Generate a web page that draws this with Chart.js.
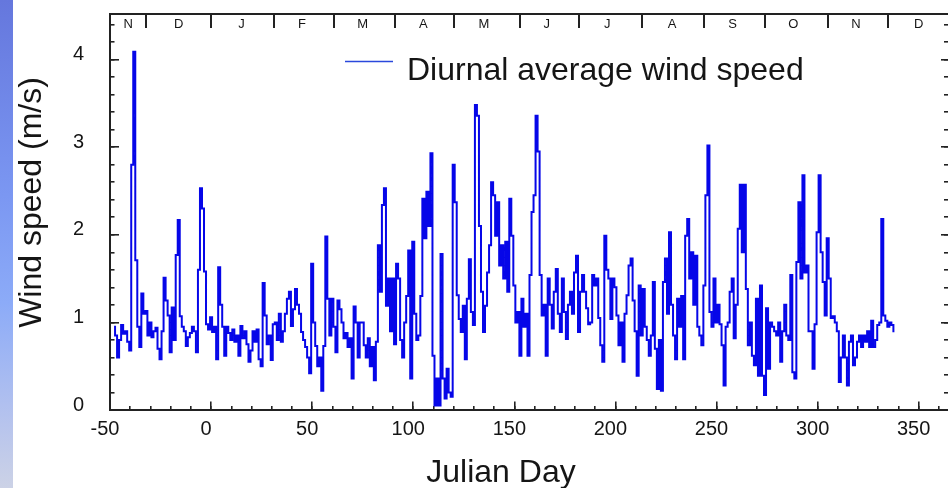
<!DOCTYPE html>
<html>
<head>
<meta charset="utf-8">
<script src="https://cdn.jsdelivr.net/npm/chart.js@4.4.0/dist/chart.umd.min.js"></script>
<style>
  html, body { margin: 0; padding: 0; background: #ffffff; width: 948px; height: 488px; overflow: hidden; }
  #edge {
    position: absolute; left: 0; top: 0; width: 13px; height: 488px;
    background: linear-gradient(to bottom, #6577dd 0%, #7b97f2 40%, #8cabf8 62%, #b4c2ee 85%, #ccd2e6 100%);
  }
  #wrap { position: absolute; left: 0; top: 0; width: 952px; height: 488px; }
  canvas { display: block; }
</style>
</head>
<body>
<div id="edge"></div>
<div id="wrap"><canvas id="chart" width="952" height="488" style="width:952px;height:488px"></canvas></div>
<script>
// Daily (diurnal) average wind speed, one value per Julian day starting at day -48
const firstDay = -48;
const windSpeed = [
  0.95, 0.85, 0.60, 0.80, 0.97, 0.87, 0.90, 0.78, 0.68,             // -48 .. -40
  2.80, 4.09, 1.71, 0.95, 0.72, 1.33, 1.10, 1.13, 0.85, 1.00,       // -39 .. -30
  0.83, 0.90, 0.94, 0.70, 0.58, 0.90, 1.51, 1.25, 1.08, 0.66,       // -29 .. -20
  1.17, 0.80, 1.77, 2.17, 1.07, 0.95, 0.90, 0.73, 0.83, 0.88,       // -19 .. -10
  0.95, 0.90, 0.66, 1.60, 2.53, 2.30, 1.58, 0.98, 0.92, 1.06,       //  -9 .. 0
  0.89, 0.95, 0.58, 1.63, 1.20, 0.95, 0.62, 0.95, 0.88, 0.80,       //   1 .. 10
  0.92, 0.78, 0.85, 0.62, 0.96, 0.82, 0.90, 0.75, 0.55, 0.68,       //  11 .. 20
  0.90, 0.78, 0.92, 0.58, 0.50, 1.45, 1.08, 0.75, 0.85, 0.57,       //  21 .. 30
  0.98, 1.00, 0.80, 1.10, 0.78, 0.90, 1.10, 1.27, 1.35, 0.96,       //  31 .. 40
  1.15, 1.38, 1.20, 1.10, 0.89, 0.80, 0.72, 0.60, 0.42, 1.67,       //  41 .. 50
  1.00, 0.73, 0.50, 0.60, 0.22, 0.73, 1.98, 1.27, 0.85, 1.27,       //  51 .. 60
  0.95, 0.66, 1.25, 1.15, 1.00, 0.82, 0.88, 0.72, 0.82, 0.36,       //  61 .. 70
  1.18, 1.00, 0.60, 1.00, 1.00, 0.74, 0.60, 0.82, 0.50, 0.72,       //  71 .. 80
  0.34, 0.78, 1.88, 1.35, 2.34, 2.53, 1.19, 1.50, 0.90, 1.50,       //  81 .. 90
  0.75, 1.67, 1.50, 0.80, 0.60, 1.00, 1.30, 1.82, 0.36, 1.92,       //  91 .. 100
  1.10, 0.80, 0.85, 1.30, 2.41, 1.96, 2.49, 2.10, 2.93, 0.62,       // 101 .. 110
  0.05, 0.36, 0.05, 1.78, 0.36, 0.13, 0.47, 0.20, 0.15, 2.80,       // 111 .. 120
  2.37, 1.31, 1.04, 0.89, 1.19, 0.58, 1.27, 1.72, 1.12, 0.97,       // 121 .. 130
  3.48, 3.36, 2.10, 1.35, 0.89, 1.19, 1.57, 1.88, 2.60, 2.45,       // 131 .. 140
  1.99, 2.37, 1.65, 1.88, 1.50, 1.92, 1.35, 2.41, 1.99, 1.42,       // 141 .. 150
  1.00, 1.12, 0.62, 1.27, 0.95, 1.10, 0.62, 1.54, 2.26, 2.45,       // 151 .. 160
  3.36, 2.95, 1.54, 1.08, 1.20, 0.62, 1.50, 1.20, 0.93, 1.35,       // 161 .. 170
  1.61, 1.10, 0.89, 1.50, 1.12, 0.81, 1.20, 1.35, 1.10, 1.57,       // 171 .. 180
  1.76, 0.89, 1.35, 1.54, 1.35, 1.16, 0.98, 1.00, 1.54, 1.42,       // 181 .. 190
  1.50, 1.05, 0.74, 0.55, 1.99, 1.60, 1.50, 1.04, 1.50, 1.40,       // 191 .. 200
  1.08, 0.74, 1.00, 0.55, 1.10, 1.31, 1.65, 1.73, 1.25, 0.90,       // 201 .. 210
  0.39, 1.42, 0.85, 1.38, 0.95, 0.80, 0.62, 0.85, 1.46, 0.70,       // 211 .. 220
  0.24, 0.80, 0.22, 1.46, 1.73, 1.10, 2.03, 1.20, 0.85, 0.58,       // 221 .. 230
  1.27, 0.95, 1.30, 0.58, 1.99, 2.18, 1.50, 1.80, 1.20, 1.76,       // 231 .. 240
  0.95, 0.85, 0.74, 1.42, 2.45, 3.02, 1.12, 0.95, 1.50, 1.00,       // 241 .. 250
  1.20, 0.98, 0.74, 0.28, 0.95, 1.00, 1.35, 1.50, 0.82, 1.20,       // 251 .. 260
  2.07, 2.57, 1.80, 2.57, 1.38, 0.74, 1.00, 0.62, 0.51, 1.27,       // 261 .. 270
  0.39, 1.42, 0.39, 0.17, 1.16, 0.47, 1.00, 0.95, 0.90, 0.85,       // 271 .. 280
  1.00, 0.55, 0.90, 1.20, 0.85, 0.80, 1.54, 0.43, 0.36, 1.69,       // 281 .. 290
  2.37, 1.50, 2.68, 1.57, 1.65, 0.90, 0.90, 0.47, 0.98, 2.03,       // 291 .. 300
  2.68, 1.80, 1.46, 1.08, 1.96, 1.50, 1.05, 1.07, 1.00, 0.90,       // 301 .. 310
  0.32, 0.60, 0.85, 0.60, 0.28, 0.78, 0.85, 0.51, 0.60, 0.78,       // 311 .. 320
  0.85, 0.72, 0.85, 0.78, 0.90, 0.72, 1.02, 0.72, 0.80, 0.97,       // 321 .. 330
  1.00, 2.18, 1.08, 1.02, 0.95, 1.00, 0.97, 0.90                    // 331 .. 338
];

// Month strip along the top edge
const monthNames  = ['N', 'D', 'J', 'F', 'M', 'A', 'M', 'J', 'J', 'A', 'S', 'O', 'N', 'D'];
const monthStarts = [-32, 0, 31, 61, 91, 120, 153, 182, 213, 244, 274, 305, 335];
const monthMids   = [-41, -16, 15, 45, 75, 105, 135, 166, 196, 228, 258, 288, 319, 350];

const seriesLabel = 'Diurnal average wind speed';
const xTitle = 'Julian Day';
const yTitle = 'Wind speed (m/s)';

const dayRange = { min: -50, max: 365 };
const speedRange = { min: 0, max: 4.52 };

const FONT = '"Liberation Sans", Arial, Helvetica, sans-serif';
const INK = '#151515';
const AXIS = '#222222';
const LINE = '#0606e8';

Chart.defaults.font.family = FONT;
Chart.defaults.color = INK;

const points = windSpeed.map((v, i) => ({ x: firstDay + i, y: v }));

// Pin each axis box to a fixed thickness and drop the label overhang padding
function fixSize(size) {
  return (scale) => {
    if (scale.isHorizontal()) scale.height = size; else scale.width = size;
    scale.paddingTop = 0;
    scale.paddingBottom = 0;
    scale.paddingLeft = 0;
    scale.paddingRight = 0;
  };
}

function tickGrid(len, width) {
  return { drawOnChartArea: false, drawTicks: true, tickLength: len, color: AXIS, lineWidth: width };
}

// Legend and axis titles drawn at fixed spots around the plot
const textLayer = {
  id: 'textLayer',
  afterDraw(chart) {
    const ctx = chart.ctx;
    const ds = chart.data.datasets[0];
    ctx.save();
    ctx.strokeStyle = '#2a48dc';
    ctx.lineWidth = 1.4;
    ctx.beginPath();
    ctx.moveTo(345, 61.5);
    ctx.lineTo(393, 61.5);
    ctx.stroke();

    ctx.fillStyle = INK;
    ctx.font = '32px ' + FONT;
    ctx.textAlign = 'left';
    ctx.textBaseline = 'alphabetic';
    ctx.fillText(ds.label, 407, 80);

    ctx.textAlign = 'center';
    ctx.fillText(xTitle, 501, 482);

    ctx.translate(41, 202.5);
    ctx.rotate(-Math.PI / 2);
    ctx.font = '32px ' + FONT;
    ctx.fillText(yTitle, 0, 0);
    ctx.restore();
  }
};

new Chart(document.getElementById('chart'), {
  type: 'line',
  data: {
    datasets: [{
      label: seriesLabel,
      data: points,
      borderColor: LINE,
      backgroundColor: LINE,
      borderWidth: 2,
      pointRadius: 0,
      stepped: 'middle',
      fill: false,
      xAxisID: 'x',
      yAxisID: 'y'
    }]
  },
  options: {
    responsive: false,
    animation: false,
    layout: { padding: { left: 0, right: 3, top: 0, bottom: 0 } },
    plugins: { legend: { display: false }, tooltip: { enabled: false } },
    scales: {
      x: {
        type: 'linear', position: 'bottom', weight: 1, ...dayRange,
        ticks: { stepSize: 50, includeBounds: false, padding: 15.5, labelOffset: -5, autoSkip: false, maxRotation: 0, color: INK, font: { size: 20 } },
        grid: tickGrid(-8.5, 1.6),
        border: { display: true, color: AXIS, width: 2 },
        afterFit: fixSize(78)
      },
      xMinor: {
        type: 'linear', position: 'bottom', weight: 0, ...dayRange,
        ticks: { stepSize: 10, includeBounds: false, display: false },
        grid: tickGrid(-4, 1.6),
        border: { display: false },
        afterFit: fixSize(0)
      },
      xMonths: {
        type: 'linear', position: 'top', weight: 1, ...dayRange,
        afterBuildTicks: (s) => { s.ticks = monthStarts.map(v => ({ value: v })); },
        ticks: { display: false },
        grid: tickGrid(-14, 2),
        border: { display: true, color: AXIS, width: 2 },
        afterFit: fixSize(14)
      },
      xMonthNames: {
        type: 'linear', position: 'top', weight: 0, ...dayRange,
        afterBuildTicks: (s) => { s.ticks = monthMids.map(v => ({ value: v })); },
        ticks: { mirror: true, padding: 3, autoSkip: false, maxRotation: 0, color: INK, font: { size: 13 },
                 callback: (v, i) => monthNames[i] },
        grid: { display: false, drawTicks: false },
        border: { display: false },
        afterFit: fixSize(0)
      },
      y: {
        type: 'linear', position: 'left', weight: 1, ...speedRange,
        ticks: { stepSize: 1, includeBounds: false, padding: 35, labelOffset: -5, color: INK, font: { size: 20 } },
        grid: tickGrid(-9, 1.6),
        border: { display: true, color: AXIS, width: 2 },
        afterFit: fixSize(110)
      },
      yMinor: {
        type: 'linear', position: 'left', weight: 0, ...speedRange,
        ticks: { stepSize: 0.2, includeBounds: false, display: false },
        grid: tickGrid(-4.5, 1.6),
        border: { display: false },
        afterFit: fixSize(0)
      },
      yRight: {
        type: 'linear', position: 'right', weight: 0, ...speedRange,
        ticks: { stepSize: 1, includeBounds: false, display: false },
        grid: tickGrid(-8, 1.6),
        border: { display: false },
        afterFit: fixSize(0)
      },
      yRightMinor: {
        type: 'linear', position: 'right', weight: 1, ...speedRange,
        ticks: { stepSize: 0.2, includeBounds: false, display: false },
        grid: tickGrid(-5, 1.6),
        border: { display: false },
        afterFit: fixSize(0)
      }
    }
  },
  plugins: [textLayer]
});
</script>
</body>
</html>
